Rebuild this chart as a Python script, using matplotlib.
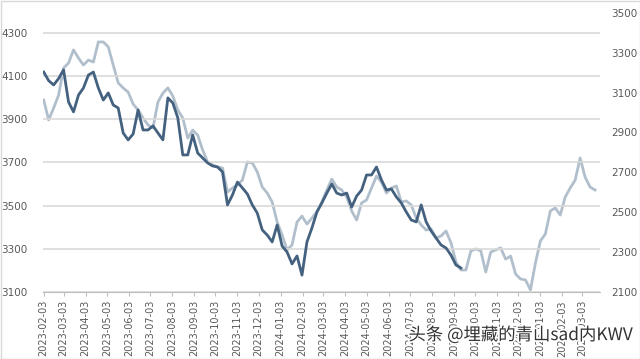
import matplotlib
matplotlib.use("Agg")
import matplotlib.pyplot as plt
import matplotlib.dates as mdates
import matplotlib.patheffects as pe
import pandas as pd

# Weekly (Friday) samples
dark_values = [4120, 4080, 4060, 4090, 4130, 3981, 3935, 4013, 4046, 4106,
               4120, 4046, 3990, 4023, 3967, 3953, 3837, 3805, 3832, 3944,
               3851, 3851, 3870, 3837, 3805, 4000, 3976, 3907, 3735, 3735,
               3828, 3744, 3721, 3698, 3684, 3679, 3656, 3503, 3549, 3609,
               3582, 3554, 3503, 3465, 3387, 3363, 3331, 3410, 3312, 3284,
               3229, 3266, 3177, 3331, 3396, 3470, 3512, 3558, 3600, 3558,
               3549, 3558, 3493, 3544, 3572, 3642, 3642, 3679, 3619, 3572,
               3577, 3540, 3512, 3470, 3433, 3424, 3503, 3424, 3382, 3349,
               3317, 3303, 3270, 3224, 3210]

light_values = [3063, 2963, 3023, 3088, 3224, 3249, 3315, 3274, 3239, 3264,
                3254, 3355, 3355, 3330, 3239, 3149, 3124, 3103, 3043, 3013,
                2973, 2938, 2923, 3053, 3098, 3124, 3083, 3013, 2973, 2872,
                2912, 2887, 2812, 2752, 2737, 2727, 2722, 2601, 2621, 2636,
                2661, 2752, 2747, 2702, 2626, 2596, 2551, 2450, 2385, 2310,
                2335, 2450, 2480, 2440, 2470, 2501, 2551, 2611, 2666, 2626,
                2611, 2576, 2506, 2460, 2546, 2561, 2621, 2681, 2651, 2596,
                2621, 2631, 2551, 2556, 2536, 2470, 2435, 2410, 2415, 2370,
                2380, 2405, 2345, 2249, 2209, 2209, 2305, 2315, 2305, 2199,
                2299, 2310, 2320, 2264, 2279, 2189, 2164, 2159, 2109, 2244,
                2355, 2390, 2506, 2521, 2485, 2576, 2621, 2661, 2772, 2676,
                2626, 2611]

start_date = "2023-02-03"
dark_dates = pd.date_range(start_date, periods=len(dark_values), freq="W-FRI")
light_dates = pd.date_range(start_date, periods=len(light_values), freq="W-FRI")

left_ticks = [3100, 3300, 3500, 3700, 3900, 4100, 4300]
right_ticks = [2100, 2300, 2500, 2700, 2900, 3100, 3300, 3500]
watermark = "头条 @埋藏的青山sad内KWV"

plt.rcParams['font.family'] = ['DejaVu Sans']

W, H = 640, 359
fig = plt.figure(figsize=(W / 100, H / 100), dpi=100)
ax = fig.add_axes([43 / W, (H - 291.7) / H, (600 - 43) / W, (291.7 - 3) / H])
ax2 = ax.twinx()

ax.set_zorder(ax2.get_zorder() + 1)
ax.patch.set_visible(False)

ax2.plot(light_dates, light_values, color="#b1bfcc", lw=2.0, solid_joinstyle="round")
ax.plot(dark_dates, dark_values, color="#44627f", lw=2.0, solid_joinstyle="round")

ax.set_ylim(3100, 3100 + (291.7 - 3) * 200 / 43.07)
ax2.set_ylim(2100, 2100 + (291.7 - 3) * 200 / 39.8)
ax.set_yticks(left_ticks)
ax2.set_yticks(right_ticks)

ax.set_xlim(pd.Timestamp("2023-02-02"), pd.Timestamp("2025-03-28"))
ax.xaxis.set_major_locator(mdates.MonthLocator(bymonthday=3))
ax.xaxis.set_major_formatter(mdates.DateFormatter("%Y-%m-%d"))
for lbl in ax.get_xticklabels():
    lbl.set_rotation(90)

ax.grid(axis="y", color="#d9d9d9", lw=1.2)
ax.set_axisbelow(True)
for a in (ax, ax2):
    for s in ("top", "left", "right", "bottom"):
        a.spines[s].set_visible(False)
ax.spines["bottom"].set_visible(True)
ax.spines["bottom"].set_color("#bfbfbf")

ax.tick_params(axis="y", length=0, pad=11, labelsize=7.5, labelcolor="#595959")
ax2.tick_params(axis="y", length=0, pad=8, labelsize=7.5, labelcolor="#595959")
ax.tick_params(axis="x", length=3, color="#bfbfbf", pad=3, labelsize=7, labelcolor="#595959")

fig.patches.append(plt.Rectangle((0.5 / W, 0.5 / H), 1 - 1 / W, 1 - 1 / H,
                                 transform=fig.transFigure, fill=False,
                                 edgecolor="#d9d9d9", lw=1))

fig.text(633 / W, (H - 335) / H, watermark, ha="right", va="center",
         fontsize=12.5, color="#333333",
         family=["Noto Sans CJK SC", "DejaVu Sans"],
         path_effects=[pe.withStroke(linewidth=2.5, foreground="white")])

fig.savefig("out.png", dpi=100)
